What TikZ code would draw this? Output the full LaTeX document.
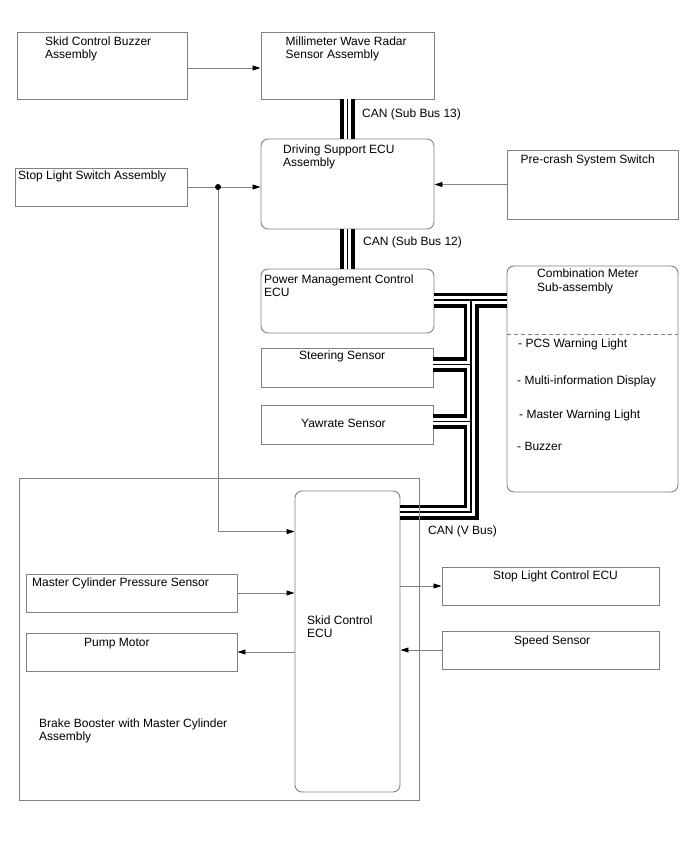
\documentclass[tikz,border=0pt]{standalone}
\usepackage{fontspec}
\setmainfont{Liberation Sans}
\usetikzlibrary{arrows.meta}
\definecolor{edgegray}{gray}{0.5}

\begin{document}
\begin{tikzpicture}[
		x=1pt, y=-1pt,
		font=\fontsize{12}{13.75}\selectfont,
		plain box/.style={rectangle, draw=edgegray, line width=0.9pt, inner sep=0pt},
		ecu box/.style={plain box, rounded corners=7pt},
		note/.style={anchor=base west, inner sep=0pt, align=left},
		lead/.style={draw=edgegray, line width=0.8pt},
		wire/.style={lead, -{Triangle[color=black, length=8pt, width=5pt]}}
		]
		\useasboundingbox (0, 0) rectangle (688, 852);

		% units
		\node at (102, 65.5) [name=buzzer, plain box, minimum width=170pt, minimum height=67pt] {};
		\node at (347.5, 65.5) [name=radar, plain box, minimum width=173pt, minimum height=67pt] {};
		\node at (347.5, 184) [name=driving, ecu box, minimum width=173pt, minimum height=90pt] {};
		\node at (101, 187) [name=stop switch, plain box, minimum width=172pt, minimum height=38pt] {};
		\node at (592.5, 184.5) [name=precrash, plain box, minimum width=171pt, minimum height=69pt] {};
		\node at (347.5, 301) [name=pm ecu, ecu box, minimum width=173pt, minimum height=64pt] {};
		\node at (592.5, 379) [name=meter, ecu box, minimum width=171pt, minimum height=226pt] {};
		\node at (347, 367.5) [name=steering, plain box, minimum width=172pt, minimum height=39pt] {};
		\node at (347, 424.5) [name=yawrate, plain box, minimum width=172pt, minimum height=39pt] {};
		\node at (347.5, 641.5) [name=skid ecu, ecu box, minimum width=105pt, minimum height=301pt] {};
		\node at (131.5, 593) [name=mc sensor, plain box, minimum width=211pt, minimum height=38pt] {};
		\node at (131.5, 652) [name=pump, plain box, minimum width=211pt, minimum height=38pt] {};
		\node at (550.5, 586) [name=stop ecu, plain box, minimum width=217pt, minimum height=38pt] {};
		\node at (550.5, 650) [name=speed, plain box, minimum width=217pt, minimum height=38pt] {};
		\draw[edgegray, line width=0.8pt, dash pattern=on 4pt off 3pt] (meter.west |- 0, 334) -- (meter.east |- 0, 334);

		% texts (multi-line notes sit on their last baseline)
		\node at (45, 58.75) [name=buzzer text, note] {Skid Control Buzzer\\Assembly};
		\node at (285.5, 58.75) [name=radar text, note] {Millimeter Wave Radar\\Sensor Assembly};
		\node at (283, 166.75) [name=driving text, note] {Driving Support ECU\\Assembly};
		\node at (18, 179.5) [name=stop switch text, note] {Stop Light Switch Assembly};
		\node at (520.5, 163) [name=precrash text, note] {Pre-crash System Switch};
		\node at (264, 296.75) [name=pm ecu text, note] {Power Management Control\\ECU};
		\node at (537, 291) [name=meter text, note] {Combination Meter\\Sub-assembly};
		\node at (518, 347) [name=pcs, note] {- PCS Warning Light};
		\node at (517, 384) [name=mid, note] {- Multi-information Display};
		\node at (519, 418) [name=master, note] {- Master Warning Light};
		\node at (517, 450) [name=buzzer item, note] {- Buzzer};
		\node at (299, 359.5) [name=steering text, note] {Steering Sensor};
		\node at (301, 427.5) [name=yawrate text, note] {Yawrate Sensor};
		\node at (307, 637.75) [name=skid ecu text, note] {Skid Control\\ECU};
		\node at (32, 586.5) [name=mc sensor text, note] {Master Cylinder Pressure Sensor};
		\node at (84, 646) [name=pump text, note] {Pump Motor};
		\node at (39, 740.75) [name=booster text, note] {Brake Booster with Master Cylinder\\Assembly};
		\node at (493, 579.5) [name=stop ecu text, note] {Stop Light Control ECU};
		\node at (514, 644) [name=speed text, note] {Speed Sensor};
		\node at (362, 117) [name=can 13, note] {CAN (Sub Bus 13)};
		\node at (363, 245) [name=can 12, note] {CAN (Sub Bus 12)};
		\node at (428, 534) [name=can v, note] {CAN (V Bus)};

		% signal lines
		\node at (218, 187) [name=split, circle, fill=black, inner sep=0pt, minimum size=6pt] {};
		\draw[wire] ([yshift=-2.5pt]buzzer.east) -- ([yshift=-2.5pt]radar.west);
		\draw[lead] (stop switch.east) -- (split);
		\draw[wire] (split) -- (split -| driving.west);
		\draw[wire] (split) |- ([yshift=-41pt]skid ecu.north west);
		\draw[wire] (precrash.west) -- (precrash.west -| driving.east);
		\draw[wire] (mc sensor.east) -- (mc sensor.east -| skid ecu.west);
		\draw[wire] (pump.east -| skid ecu.west) -- (pump.east);
		\draw[wire] (skid ecu.east |- stop ecu.west) -- (stop ecu.west);
		\draw[wire] (speed.west) -- (speed.west -| skid ecu.east);

		% CAN lines, drawn in three passes
		\coordinate (v bus) at (471, 300);
		\coordinate (v bus end) at (471, 512);
		\foreach \lw/\lc in {15pt/black, 7.5pt/white, 1.5pt/black} {
			\draw[line width=\lw, \lc]
				(radar.south) -- (driving.north)
				(driving.south) -- (pm ecu.north)
				([yshift=1pt]pm ecu.east) -- ([yshift=1pt]pm ecu.east -| meter.west)
				(v bus) -- (v bus end) -- (v bus end -| skid ecu.east)
				([yshift=3pt]steering.east) -- ([yshift=3pt]steering.east -| v bus)
				([yshift=3pt]yawrate.east) -- ([yshift=3pt]yawrate.east -| v bus);
		}

		% brake booster outline
		\node at (219, 639) [name=booster, plain box, minimum width=400pt, minimum height=322pt] {};
	\end{tikzpicture}
\end{document}
